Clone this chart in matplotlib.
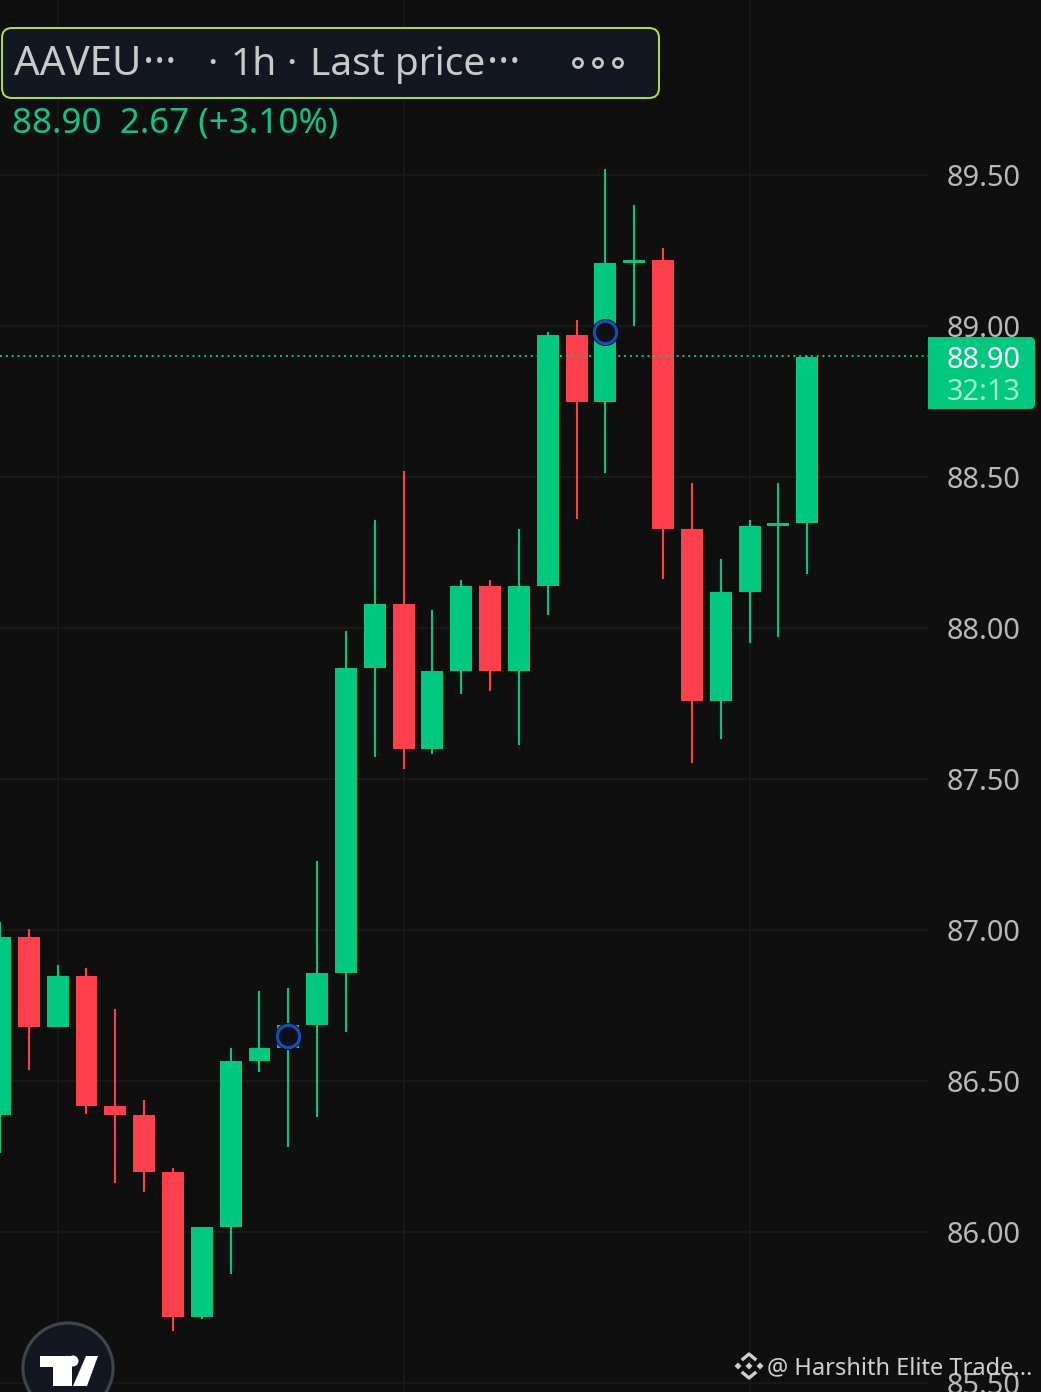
import matplotlib
matplotlib.use("Agg")
import matplotlib.pyplot as plt
from matplotlib.patches import Circle, FancyBboxPatch, Polygon, Rectangle

# ============================================================
# DATA (AAVE 1h candles)
# ============================================================
opens = [86.387, 86.977, 86.679, 86.848, 86.417, 86.387, 86.199, 85.719, 86.017, 86.566,
         86.609, 86.685, 86.858, 87.868, 88.079, 87.599, 87.858, 88.139, 87.858, 88.139,
         88.970, 88.748, 89.209, 89.219, 88.328, 87.758, 88.119, 88.338, 88.348]
closes = [86.977, 86.679, 86.848, 86.417, 86.387, 86.199, 85.719, 86.017, 86.566, 86.609,
          86.685, 86.858, 87.868, 88.079, 87.599, 87.858, 88.139, 87.858, 88.139, 88.970,
          88.748, 89.209, 89.219, 88.328, 87.758, 88.119, 88.338, 88.348, 88.897]
highs = [87.027, 87.003, 86.884, 86.874, 86.738, 86.437, 86.212, 86.017, 86.609, 86.798,
         86.808, 87.228, 87.990, 88.358, 88.520, 88.060, 88.159, 88.159, 88.328, 88.980,
         89.020, 89.520, 89.401, 89.258, 88.480, 88.228, 88.358, 88.480, 88.900]
lows = [86.262, 86.536, 86.679, 86.391, 86.162, 86.132, 85.672, 85.712, 85.861, 86.530,
        86.281, 86.381, 86.662, 87.573, 87.533, 87.583, 87.781, 87.791, 87.613, 88.043,
        88.361, 88.513, 89.000, 88.162, 87.553, 87.632, 87.950, 87.970, 88.179]

price_ticks = [89.5, 89.0, 88.5, 88.0, 87.5, 87.0, 86.5, 86.0, 85.5]
vgrid_idx = [2, 14, 26]
marker_idx = [10, 21]
marker_price = [86.650, 88.980]
last_price = 88.90
countdown = "32:13"
header_line = "88.90  2.67 (+3.10%)"

BG = "#0f0f0f"
GRID = "#191919"
GREEN = "#00c97f"
RED = "#ff3f4c"
LABEL = "#b8b8b8"
FONT = "Noto Sans"

W, H = 1041, 1392
STEP = 28.83        # pixel giua 2 nen
PX_PER_UNIT = 302.0
TOP_PX = 175.2      # pixel cua muc 89.50
TAG_LEFT = 928

plt.rcParams["font.family"] = FONT

fig = plt.figure(figsize=(W / 100, H / 100), dpi=100, facecolor=BG)
ax = fig.add_axes([0, 0, 1, 1], facecolor=BG)
ax.set_xlim(0, W / STEP)
ax.set_ylim(89.5 - (H - TOP_PX) / PX_PER_UNIT, 89.5 + TOP_PX / PX_PER_UNIT)
ax.axis("off")

# grid
grid_right = TAG_LEFT / STEP
ax.hlines(price_ticks, 0, grid_right, color=GRID, lw=1.4, zorder=1)
ax.vlines(vgrid_idx, *ax.get_ylim(), color=GRID, lw=1.2, zorder=1)

# candles
for i in range(len(opens)):
    color = GREEN if closes[i] >= opens[i] else RED
    ax.vlines(i, lows[i], highs[i], color=color, lw=1.5, zorder=2)
    ax.bar(i, abs(closes[i] - opens[i]), bottom=min(opens[i], closes[i]), width=0.76,
           color=color, linewidth=0, zorder=3)

# last price line
ax.hlines(last_price, 0, grid_right, color=GREEN, lw=1.4, linestyles=(0, (1, 2)), zorder=4)

# event markers
ax.plot(marker_idx, marker_price, "o", ms=18, mfc="none", mec="#0a0f1c", mew=1.5, zorder=5)
ax.plot(marker_idx, marker_price, "o", ms=16, mfc="#0f1116", mec="#1a4cb8", mew=2.2, zorder=6)

# price labels
for p in price_ticks:
    ax.text(983.5 / STEP, p - 0.012, f"{p:.2f}", color=LABEL, fontsize=20.8,
            ha="center", va="center", zorder=7)

# ------------------------------------------------------------
# overlay in pixel coordinates: header, tag, logos
# ------------------------------------------------------------
ov = fig.add_axes([0, 0, 1, 1], facecolor="none")
ov.set_xlim(0, W)
ov.set_ylim(H, 0)
ov.axis("off")

# price tag
ov.add_patch(FancyBboxPatch((TAG_LEFT + 6, 337 + 5), 107 - 11, 72 - 10, boxstyle="round,pad=5,rounding_size=5",
                            fc=GREEN, ec="none", zorder=8))
ov.add_patch(Rectangle((TAG_LEFT, 337), 12, 72, fc=GREEN, ec="none", zorder=8))
ov.text(984, 361, f"{last_price:.2f}", color="white", fontsize=20.8, ha="center", va="center", zorder=9)
ov.text(984, 393, countdown, color="#a6ecd0", fontsize=20.8, ha="center", va="center", zorder=9)

# header box
ov.add_patch(FancyBboxPatch((12, 38), 637, 50, boxstyle="round,pad=10,rounding_size=10",
                            fc="#131722", ec="#b2e62e", lw=1.4, zorder=8))
TXT = "#c9c9c9"
ov.text(14, 75, "AAVEU", color=TXT, fontsize=29, va="baseline", zorder=9)
ov.text(143, 75, "···", color=TXT, fontsize=30, va="baseline", zorder=9)
ov.text(207, 75, "·", color=TXT, fontsize=28, va="baseline", zorder=9)
ov.text(231, 75, "1h", color=TXT, fontsize=28, va="baseline", zorder=9)
ov.text(286, 75, "·", color=TXT, fontsize=28, va="baseline", zorder=9)
ov.text(310, 75, "Last price", color=TXT, fontsize=28, va="baseline", zorder=9)
ov.text(487, 75, "···", color=TXT, fontsize=30, va="baseline", zorder=9)
for cx in (578, 598, 618):
    ov.add_patch(Circle((cx, 63), 4.5, fc="none", ec=TXT, lw=2, zorder=9))
ov.text(12, 123, header_line, color="#0fc48a", fontsize=25.2, va="center", zorder=9)

# TradingView logo
ov.add_patch(Circle((68, 1368), 45, fc="#131722", ec="#41454e", lw=2.2, zorder=8))
ov.add_patch(Polygon([(40, 1356), (72, 1356), (72, 1386), (53, 1386), (53, 1367), (40, 1367)],
                     fc="white", ec="none", zorder=9))
ov.add_patch(Circle((73, 1361), 5.5, fc="white", ec="none", zorder=9))
ov.add_patch(Polygon([(86, 1356), (98, 1356), (87, 1386), (73, 1386)], fc="white", ec="none", zorder=9))

# watermark
WM = "#cfcfcf"
for cx, cy, r in [(738, 1366, 3.5), (760, 1366, 3.5), (749, 1366, 3.5)]:
    ov.add_patch(Polygon([(cx - r, cy), (cx, cy - r), (cx + r, cy), (cx, cy + r)], fc=WM, ec="none", zorder=9))
ov.plot([743, 749, 755], [1359, 1354, 1359], color=WM, lw=2.4, zorder=9)
ov.plot([743, 749, 755], [1373, 1378, 1373], color=WM, lw=2.4, zorder=9)
ov.text(767, 1368, "@ Harshith Elite Trade...", color=WM, fontsize=17, va="center", zorder=9)

fig.savefig("out.png", dpi=100, facecolor=BG)
